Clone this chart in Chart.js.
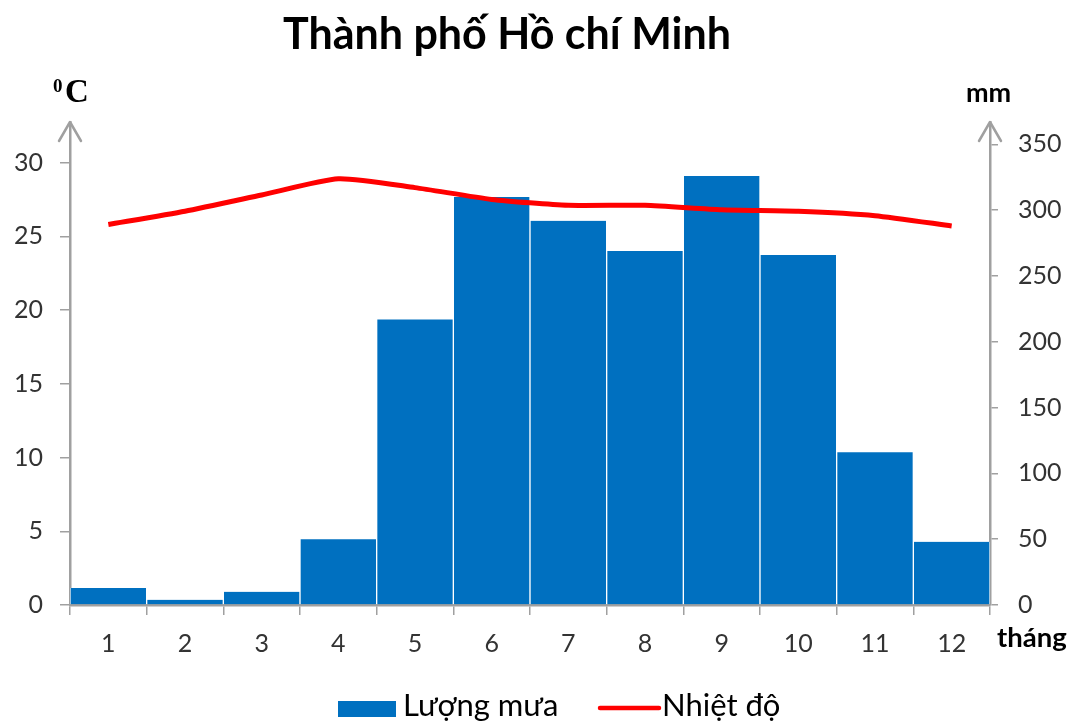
<!DOCTYPE html>
<html lang="vi">
<head>
<meta charset="utf-8">
<title>Thành phố Hồ chí Minh</title>
<script src="https://cdn.jsdelivr.net/npm/chart.js@4/dist/chart.umd.min.js"></script>
<style>
  html, body { margin: 0; padding: 0; background: #fff; }
  #wrap { width: 1071px; height: 724px; }
</style>
</head>
<body>
<div id="wrap"><canvas id="chart" width="1071" height="724"></canvas></div>
<script>
// Monthly climate data for Ho Chi Minh City
const months = ['1', '2', '3', '4', '5', '6', '7', '8', '9', '10', '11', '12'];
const rainfall = [13, 4, 10, 50, 217, 310, 292, 269, 326, 266, 116, 48];            // mm
const temperature = [25.8, 26.7, 27.8, 28.9, 28.3, 27.5, 27.1, 27.1, 26.8, 26.7, 26.4, 25.7]; // °C

const titleText = 'Thành phố Hồ chí Minh';
const rainLabel = 'Lượng mưa';
const tempLabel = 'Nhiệt độ';
const tempUnit = 'C';
const rainUnit = 'mm';
const monthUnit = 'tháng';

const AXIS_GREY = '#A0A0A0';
const TICK_FONT = { family: 'Lato', size: 25 };

// Extra drawing: axis arrows, unit labels, title and legend
const decorations = {
  id: 'decorations',
  afterDraw(chart) {
    const { ctx, chartArea } = chart;
    ctx.save();

    // arrow heads at the top of both vertical axes
    ctx.strokeStyle = AXIS_GREY;
    ctx.lineWidth = 2.5;
    ctx.lineCap = 'round';
    ctx.lineJoin = 'round';
    [chartArea.left, chartArea.right].forEach(x => {
      ctx.beginPath();
      ctx.moveTo(x - 11, chartArea.top + 19);
      ctx.lineTo(x, chartArea.top);
      ctx.lineTo(x + 11, chartArea.top + 19);
      ctx.stroke();
    });

    // title
    ctx.fillStyle = '#000';
    ctx.textAlign = 'center';
    ctx.textBaseline = 'alphabetic';
    ctx.font = 'bold 43px Lato';
    ctx.fillText(titleText, 507, 49);

    // °C unit above the left axis
    ctx.textAlign = 'left';
    ctx.font = 'bold 19px "Liberation Serif"';
    ctx.fillText('0', 53, 92);
    ctx.font = 'bold 33px "Liberation Serif"';
    ctx.fillText(tempUnit, 65, 102);

    // mm unit above the right axis
    ctx.font = 'bold 27px Lato';
    ctx.fillText(rainUnit, 966, 102);

    // month label at the end of the category axis
    ctx.font = 'bold 27.5px Lato';
    ctx.fillText(monthUnit, 997, 647);

    // legend
    const legendBase = 716;
    ctx.fillStyle = chart.data.datasets[1].backgroundColor;
    ctx.fillRect(338, 701, 58, 16);
    ctx.fillStyle = '#000';
    ctx.font = '31px Lato';
    ctx.fillText(rainLabel, 403, legendBase);

    ctx.strokeStyle = chart.data.datasets[0].borderColor;
    ctx.lineWidth = 4.5;
    ctx.lineCap = 'round';
    ctx.beginPath();
    ctx.moveTo(600, 708);
    ctx.lineTo(659, 708);
    ctx.stroke();
    ctx.fillText(tempLabel, 662, legendBase);

    ctx.restore();
  }
};

new Chart(document.getElementById('chart'), {
  type: 'bar',
  data: {
    labels: months,
    datasets: [
      {
        type: 'line',
        label: tempLabel,
        data: temperature,
        yAxisID: 'y',
        borderColor: '#FF0000',
        borderWidth: 5,
        pointRadius: 0,
        tension: 0.2,
        fill: false,
        order: 0
      },
      {
        type: 'bar',
        label: rainLabel,
        data: rainfall,
        yAxisID: 'y1',
        backgroundColor: '#0070C0',
        borderColor: 'rgba(255,255,255,0.85)',
        borderWidth: { left: 1, right: 1, top: 0, bottom: 0 },
        barPercentage: 1,
        categoryPercentage: 1,
        order: 1
      }
    ]
  },
  options: {
    responsive: false,
    animation: false,
    layout: { padding: { top: 122, left: 0, right: 0, bottom: 0 } },
    plugins: {
      legend: { display: false },
      title: { display: false },
      tooltip: { enabled: false }
    },
    scales: {
      x: {
        offset: true,
        grid: { offset: true, drawOnChartArea: false, tickLength: 10, color: AXIS_GREY, lineWidth: 1.5 },
        border: { color: AXIS_GREY, width: 2.5 },
        ticks: { font: TICK_FONT, color: '#333', padding: 14, maxRotation: 0 },
        afterFit(scale) { scale.height = 119; }
      },
      y: {
        position: 'left',
        min: 0,
        max: 32.75,
        grid: { drawOnChartArea: false, tickLength: 10, color: AXIS_GREY, lineWidth: 1.5 },
        border: { color: AXIS_GREY, width: 2.5 },
        ticks: { stepSize: 5, includeBounds: false, font: TICK_FONT, color: '#333', padding: 17 },
        afterFit(scale) { scale.width = 70; }
      },
      y1: {
        position: 'right',
        min: 0,
        max: 367,
        grid: { drawOnChartArea: false, tickLength: 8, color: AXIS_GREY, lineWidth: 1.5 },
        border: { color: AXIS_GREY, width: 2.5 },
        ticks: { stepSize: 50, includeBounds: false, font: TICK_FONT, color: '#333', padding: 20 },
        afterFit(scale) { scale.width = 81; }
      }
    }
  },
  plugins: [decorations]
});
</script>
</body>
</html>
